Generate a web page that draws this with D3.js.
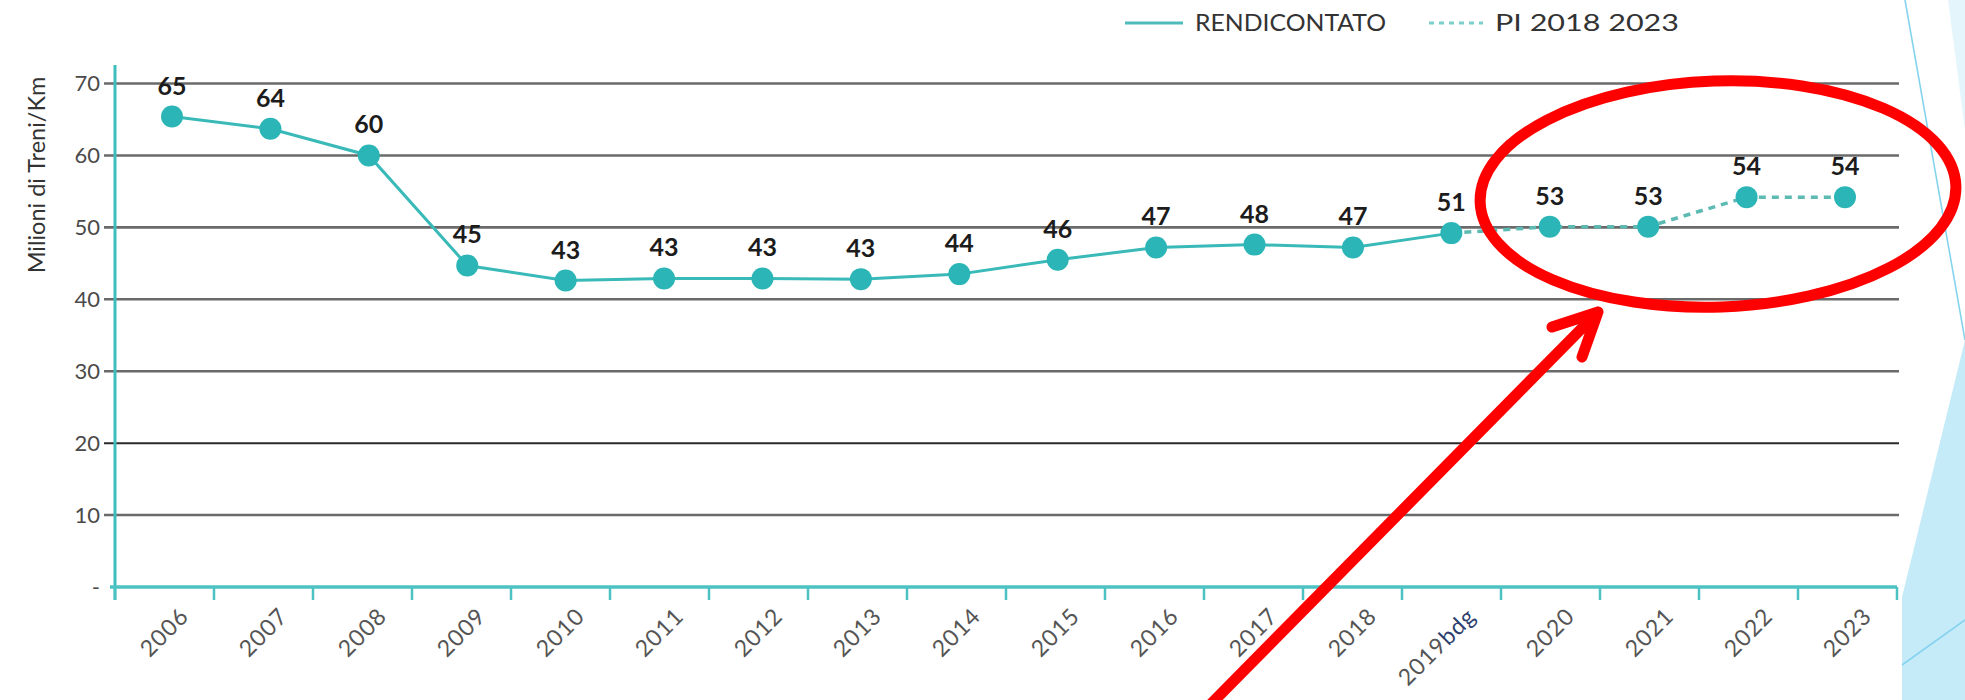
<!DOCTYPE html>
<html lang="it">
<head>
<meta charset="utf-8">
<title>Milioni di Treni/Km</title>
<script src="https://cdnjs.cloudflare.com/ajax/libs/d3/7.8.5/d3.min.js"></script>
<style>
body { margin: 0; background: #fff; }
svg { display: block; font-family: Lato, "Open Sans", sans-serif; }
.grid line { stroke: #6a6a6a; stroke-width: 2.6; }
.grid line.dark { stroke: #2a2a2a; stroke-width: 2; }
.ylab { font-size: 22px; fill: #4a4a4a; }
.xlab { font-size: 23px; fill: #555; letter-spacing: 1px; }
.val { font-size: 25px; font-weight: bold; fill: #1c1c1c; }
.legend text { font-size: 23px; fill: #333; }
</style>
</head>
<body>
<div id="chart"></div>
<script>

// data
var years = ["2006", "2007", "2008", "2009", "2010", "2011", "2012", "2013", "2014",
             "2015", "2016", "2017", "2018", "2019bdg", "2020", "2021", "2022", "2023"];
var trainKm = [65.4, 63.7, 60.0, 44.7, 42.6, 42.9, 42.9, 42.8, 43.5,
               45.5, 47.2, 47.6, 47.2, 49.2, 50.1, 50.1, 54.2, 54.2];
var valueLabels = [65, 64, 60, 45, 43, 43, 43, 43, 44, 46, 47, 48, 47, 51, 53, 53, 54, 54];
var reportedYears = years.slice(0, 14);   // RENDICONTATO
var planYears = years.slice(13);          // PI 2018 2023
var yTicks = [0, 10, 20, 30, 40, 50, 60, 70];
var seriesNames = ["RENDICONTATO", "PI 2018 2023"];

var width = 1965, height = 700;
var teal = "#2bb5b6";

var svg = d3.select("#chart").append("svg")
    .attr("width", width)
    .attr("height", height);

var byYear = {};
years.forEach(function(y, i) { byYear[y] = i; });

var xBand = d3.scaleBand().domain(years).range([115, 1897]);
var x = d3.scalePoint().domain(years).range([172, 1845]);
var y = d3.scaleLinear().domain([0, 70]).range([587, 83.5]);

// slide decoration on the right
svg.append("path")
    .attr("d", "M1948,0L1965,0L1965,130Z")
    .attr("fill", "#e4f5fc");
svg.append("path")
    .attr("d", "M1965,340L1902,597L1902,700L1965,700Z")
    .attr("fill", "#c6ebf8");
svg.append("line")
    .attr("x1", 1905).attr("y1", 0).attr("x2", 1965).attr("y2", 340)
    .attr("stroke", "#86d3ef").attr("stroke-width", 1.6);
svg.append("line")
    .attr("x1", 1902).attr("y1", 665).attr("x2", 1965).attr("y2", 620)
    .attr("stroke", "#86d3ef").attr("stroke-width", 1.6);

// gridlines
var grid = svg.append("g").attr("class", "grid");
grid.selectAll("line")
    .data(yTicks.filter(function(d) { return d > 0; }))
    .enter().append("line")
        .attr("class", function(d) { return d == 20 ? "dark" : null; })
        .attr("x1", 104)
        .attr("x2", 1899)
        .attr("y1", function(d) { return y(d); })
        .attr("y2", function(d) { return y(d); });

// y labels
svg.append("g").selectAll("text")
    .data(yTicks)
    .enter().append("text")
        .attr("class", "ylab")
        .attr("x", 100)
        .attr("y", function(d) { return y(d); })
        .attr("dy", "0.35em")
        .attr("text-anchor", "end")
        .text(function(d) { return d == 0 ? "-" : d; });

svg.append("text")
    .attr("transform", "translate(45,175) rotate(-90)")
    .attr("text-anchor", "middle")
    .style("font-size", "23.5px")
    .style("fill", "#333")
    .text("Milioni di Treni/Km");

// axes
svg.append("line")
    .attr("x1", 115).attr("x2", 115).attr("y1", 65).attr("y2", 600)
    .attr("stroke", "#3fbdbd").attr("stroke-width", 3);

var xAxis = svg.append("g")
    .attr("transform", "translate(0," + y(0) + ")")
    .call(d3.axisBottom(xBand).tickValues([]).tickSizeOuter(0));
xAxis.select(".domain")
    .attr("d", "M110,0H1897")
    .attr("stroke", "#4cc2c2")
    .attr("stroke-width", 3.5);
xAxis.selectAll(".bound")
    .data(years.concat(["end"]))
    .enter().append("line")
        .attr("class", "bound")
        .attr("x1", function(d, i) { return xBand.range()[0] + i * xBand.step(); })
        .attr("x2", function(d, i) { return xBand.range()[0] + i * xBand.step(); })
        .attr("y1", 0)
        .attr("y2", 13)
        .attr("stroke", "#4cc2c2")
        .attr("stroke-width", 2.5);

var xl = svg.append("g").selectAll("text")
    .data(years)
    .enter().append("text")
        .attr("class", "xlab")
        .attr("text-anchor", "end")
        .attr("dy", "0.35em")
        .attr("transform", function(d) {
            return "translate(" + (xBand(d) + xBand.bandwidth() / 2 + 20) + ",612) rotate(-45)";
        });
xl.each(function(d) {
    var t = d3.select(this);
    var m = d.match(/^(\d+)(.*)$/);
    t.append("tspan").text(m[1]);
    if (m[2]) t.append("tspan").style("fill", "#2d3f6e").text(m[2]);
});

// lines
var line = d3.line()
    .x(function(d) { return x(d); })
    .y(function(d) { return y(trainKm[byYear[d]]); });

svg.append("path")
    .datum(planYears)
    .attr("d", line)
    .attr("fill", "none")
    .attr("stroke", "#5dbab2")
    .attr("stroke-width", 3.5)
    .attr("stroke-dasharray", "7,6");

svg.append("path")
    .datum(reportedYears)
    .attr("d", line)
    .attr("fill", "none")
    .attr("stroke", "#3ab9b9")
    .attr("stroke-width", 3);

svg.append("g").selectAll("circle")
    .data(years)
    .enter().append("circle")
        .attr("cx", function(d) { return x(d); })
        .attr("cy", function(d, i) { return y(trainKm[i]); })
        .attr("r", 11)
        .attr("fill", teal);

svg.append("g").selectAll("text")
    .data(years)
    .enter().append("text")
        .attr("class", "val")
        .attr("text-anchor", "middle")
        .attr("x", function(d) { return x(d); })
        .attr("y", function(d, i) { return y(trainKm[i]) - 22; })
        .text(function(d, i) { return valueLabels[i]; });

// legend
var legend = svg.append("g").attr("class", "legend");
var legendX = [1125, 1429];
var legendTextW = [191, 184];
seriesNames.forEach(function(name, i) {
    var g = legend.append("g").attr("transform", "translate(" + legendX[i] + ",23)");
    g.append("line")
        .attr("x1", 0).attr("x2", i == 0 ? 58 : 54)
        .attr("stroke", i == 0 ? "#4fbaba" : "#7ccfca")
        .attr("stroke-width", 3)
        .attr("stroke-dasharray", i == 0 ? null : "5,5");
    g.append("text")
        .attr("x", i == 0 ? 70 : 66)
        .attr("dy", "0.36em")
        .attr("textLength", legendTextW[i])
        .attr("lengthAdjust", "spacingAndGlyphs")
        .text(name);
});

// red annotation
var red = svg.append("g")
    .attr("fill", "none")
    .attr("stroke", "#ff0000")
    .attr("stroke-linecap", "round")
    .attr("stroke-linejoin", "round");
red.append("ellipse")
    .attr("transform", "translate(1718,194) rotate(-2)")
    .attr("rx", 238)
    .attr("ry", 113)
    .attr("stroke-width", 11);
red.append("path")
    .attr("d", "M1205,710L1598,312M1552,327L1598,312L1582,357")
    .attr("stroke-width", 11);

</script>
</body>
</html>
